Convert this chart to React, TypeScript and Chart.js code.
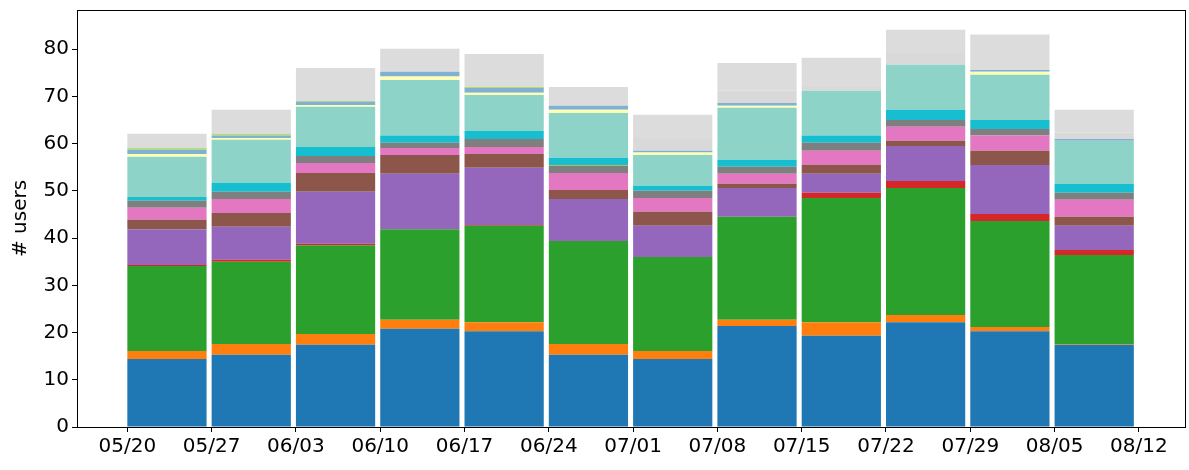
import { useEffect, useRef } from 'react';
import { Chart, registerables } from 'chart.js';

Chart.register(...registerables);

const FONT = { family: 'DejaVu Sans, sans-serif', size: 20 };

// ─── Data ─────────────────────────────────────────────────────────────────────

// week labels on the x axis (one tick every 7 days)
const TICK_LABELS = ['05/20', '05/27', '06/03', '06/10', '06/17', '06/24', '07/01', '07/08', '07/15', '07/22', '07/29', '08/05', '08/12'];
// one bar per week, starting at the week's tick
const WEEKS = ['05/20', '05/27', '06/03', '06/10', '06/17', '06/24', '07/01', '07/08', '07/15', '07/22', '07/29', '08/05'];

const S_BLUE    = [14.4, 15.3, 17.4, 20.8, 20.3, 15.3, 14.4, 21.4, 19.3, 22.2, 20.3, 17.4];
const S_ORANGE  = [1.7, 2.3, 2.3, 1.9, 1.9, 2.3, 1.7, 1.3, 2.9, 1.5, 0.9, 0.2];
const S_GREEN   = [18.0, 17.4, 18.8, 19.2, 20.4, 21.8, 19.9, 21.8, 26.3, 26.9, 22.4, 18.8];
const S_RED     = [0.2, 0.4, 0.3, 0, 0.2, 0, 0, 0, 1.1, 1.5, 1.5, 1.1];
const S_PURPLE  = [7.6, 7.0, 11.0, 11.7, 12.1, 8.9, 6.6, 6.1, 4.0, 7.4, 10.4, 5.1];
const S_BROWN   = [2.0, 2.9, 4.0, 4.0, 2.9, 1.9, 3.0, 0.9, 1.9, 1.1, 3.0, 1.9];
const S_PINK    = [2.5, 3.0, 2.1, 1.5, 1.5, 3.6, 2.9, 2.1, 3.0, 3.0, 3.2, 3.6];
const S_GRAY    = [1.5, 1.5, 1.5, 1.1, 1.7, 1.5, 1.5, 1.5, 1.7, 1.4, 1.4, 1.5];
const S_OLIVE   = [0, 0, 0, 0, 0, 0.2, 0, 0, 0, 0, 0, 0];
const S_CYAN    = [0.8, 1.9, 1.9, 1.5, 1.7, 1.5, 1.1, 1.5, 1.5, 2.2, 1.9, 1.9];
const S_TEAL    = [8.5, 9.1, 8.5, 11.8, 7.6, 9.5, 6.5, 11.0, 9.5, 9.5, 9.6, 9.1];
const S_YELLOW  = [0.6, 0.4, 0.4, 0.7, 0.5, 0.7, 0.5, 0.4, 0, 0, 0.6, 0];
const S_LBLUE   = [0.9, 0.5, 0.7, 1.0, 1.0, 0.8, 0.4, 0.6, 0, 0, 0.4, 0.4];
const S_LGREEN  = [0.4, 0.4, 0.2, 0, 0.2, 0, 0, 0, 0, 0, 0, 0];
const S_OTHER_A = [0, 0, 0, 0, 0, 0, 2.7, 2.6, 0.8, 2.5, 0, 1.3];
const S_OTHER_B = [3.0, 5.1, 6.9, 4.9, 7.0, 4.0, 4.9, 5.9, 6.2, 4.9, 7.5, 4.9];

const SERIES: [number[], string][] = [
  [S_BLUE, '#1f77b4'],
  [S_ORANGE, '#ff7f0e'],
  [S_GREEN, '#2ca02c'],
  [S_RED, '#d62728'],
  [S_PURPLE, '#9467bd'],
  [S_BROWN, '#8c564b'],
  [S_PINK, '#e377c2'],
  [S_GRAY, '#7f7f7f'],
  [S_OLIVE, '#bcbd22'],
  [S_CYAN, '#17becf'],
  [S_TEAL, '#8dd3c7'],
  [S_YELLOW, '#ffffb3'],
  [S_LBLUE, '#80b1d3'],
  [S_LGREEN, '#b3de69'],
  [S_OTHER_A, '#d9d9d9'],
  [S_OTHER_B, '#dcdcdc'],
];

const BAR_FRAC = 0.94;           // bar width as a fraction of a week
const DAY_MIN = -4.18, DAY_MAX = 87.83;

// full box around the plot area
const frame = {
  id: 'frame',
  afterDraw(chart: Chart) {
    const { ctx, chartArea: a } = chart;
    ctx.save();
    ctx.strokeStyle = '#000';
    ctx.lineWidth = 1;
    ctx.strokeRect(Math.round(a.left) + 0.5, Math.round(a.top) + 0.5, Math.round(a.right - a.left), Math.round(a.bottom - a.top));
    ctx.restore();
  },
};

export function UsersChart() {
  const canvasRef = useRef<HTMLCanvasElement>(null);
  const chartRef  = useRef<Chart | null>(null);

  useEffect(() => {
    if (!canvasRef.current) return;
    const existing = Chart.getChart(canvasRef.current);
    if (existing) existing.destroy();
    chartRef.current?.destroy();

    chartRef.current = new Chart(canvasRef.current, {
      type: 'bar',
      data: {
        datasets: SERIES.map(([vals, color]) => ({
          data: WEEKS.map((_, i) => ({ x: i * 7 + (BAR_FRAC * 7) / 2, y: vals[i] })),
          backgroundColor: color,
          borderWidth: 0,
          barPercentage: BAR_FRAC,
          categoryPercentage: 1,
        })),
      },
      options: {
        animation: false,
        responsive: true,
        maintainAspectRatio: false,
        layout: { padding: { top: 10, right: 4, left: 0, bottom: 0 } },
        plugins: { legend: { display: false }, tooltip: { enabled: false } },
        scales: {
          x: {
            type: 'linear',
            stacked: true,
            offset: false,
            min: DAY_MIN,
            max: DAY_MAX,
            afterBuildTicks: (axis: any) => {
              axis.ticks = TICK_LABELS.map((_, i) => ({ value: i * 7 }));
            },
            afterFit: (axis: any) => { axis.height = 43; axis.paddingLeft = 0; axis.paddingRight = 0; },
            grid: { offset: false, drawOnChartArea: false, drawTicks: true, tickLength: 5, tickColor: '#000' },
            border: { color: '#000' },
            ticks: {
              font: FONT, color: '#000', padding: 3, maxRotation: 0, autoSkip: false, includeBounds: false,
              callback: (v: any) => TICK_LABELS[Math.round(Number(v) / 7)] ?? '',
            },
          },
          y: {
            stacked: true,
            min: 0,
            max: 88.3,
            afterFit: (axis: any) => { axis.width = 77; axis.paddingTop = 0; axis.paddingBottom = 0; },
            grid: { drawOnChartArea: false, drawTicks: true, tickLength: 5, tickColor: '#000' },
            border: { color: '#000' },
            ticks: { font: FONT, color: '#000', stepSize: 10, padding: 3, includeBounds: false },
            title: { display: true, text: '# users', font: FONT, color: '#000', padding: { top: 9, bottom: 4 } },
          },
        },
      },
      plugins: [frame],
    });

    return () => { chartRef.current?.destroy(); chartRef.current = null; };
  }, []);

  return <canvas ref={canvasRef} />;
}

export default function App() {
  return (
    <div style={{ position: 'absolute', left: 0, top: 0, width: 1189, height: 470, background: '#fff' }}>
      <UsersChart />
    </div>
  );
}
